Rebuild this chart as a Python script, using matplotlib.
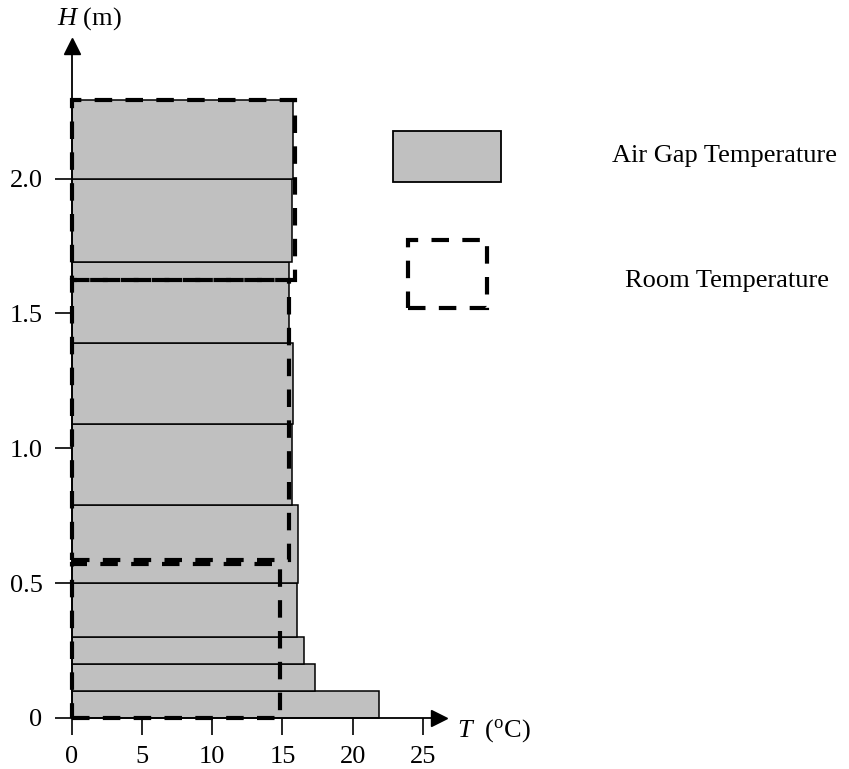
import matplotlib
matplotlib.use("Agg")
import matplotlib.pyplot as plt
from matplotlib.patches import Rectangle

plt.rcParams["font.family"] = ["Liberation Serif", "DejaVu Serif"]
plt.rcParams["mathtext.fontset"] = "custom"
plt.rcParams["mathtext.rm"] = "Liberation Serif"
plt.rcParams["mathtext.it"] = "Liberation Serif:italic"

# Air gap temperature per height band (bottom, top in m; temperature in degC)
gap_bottom = [0.0, 0.1, 0.2, 0.3, 0.5, 0.79, 1.09, 1.39, 1.69, 2.0]
gap_top = [0.1, 0.2, 0.3, 0.5, 0.79, 1.09, 1.39, 1.69, 2.0, 2.29]
gap_temp = [21.9, 17.3, 16.55, 16.07, 16.08, 15.68, 15.77, 15.49, 15.7, 15.77]

# Room temperature zones
room_bottom = [0.0, 0.585, 1.625]
room_top = [0.57, 1.625, 2.29]
room_temp = [14.8, 15.5, 15.9]

x_ticks = [0, 5, 10, 15, 20, 25]
y_ticks = [0, 0.5, 1.0, 1.5, 2.0]
y_tick_labels = ["0", "0.5", "1.0", "1.5", "2.0"]

W, H = 849, 769
fig = plt.figure(figsize=(W / 100, H / 100), dpi=100)
ax = fig.add_axes([0, 0, 1, 1])

# pixel mapping: T=0 at x=71.7, 14.05 px/degC ; H=0 at y=718, 269.75 px/m
x0, sx = 71.7, 14.05
y0, sy = 718.0, 269.75
ax.set_xlim(-x0 / sx, (W - x0) / sx)
ax.set_ylim(-(H - y0) / sy, y0 / sy)

GRAY = "#c0c0c0"
for b, t, v in zip(gap_bottom, gap_top, gap_temp):
    ax.add_patch(Rectangle((0, b), v, t - b, facecolor=GRAY,
                           edgecolor="black", linewidth=1.1, zorder=2))

dash = (0, (4.2, 3.2))
for b, t, v in zip(room_bottom, room_top, room_temp):
    ax.add_patch(Rectangle((0, b), v, t - b, facecolor="none",
                           edgecolor="black", linewidth=3.0,
                           linestyle=dash, zorder=4))

# axes lines with arrow heads
for s in ["top", "right"]:
    ax.spines[s].set_visible(False)
ax.spines["left"].set_position(("data", 0))
ax.spines["bottom"].set_position(("data", 0))
ax.spines["left"].set_bounds(0, 2.49)
ax.spines["bottom"].set_bounds(0, 26.2)
for s in ["left", "bottom"]:
    ax.spines[s].set_linewidth(1.3)
    ax.spines[s].set_zorder(3)
ax.plot([26.15], [0], marker=">", markersize=11, color="black",
        clip_on=False, zorder=5)
ax.plot([0], [2.493], marker="^", markersize=11, color="black",
        clip_on=False, zorder=5)

ax.set_xticks(x_ticks)
ax.set_xticklabels([str(v) for v in x_ticks])
ax.set_yticks(y_ticks)
ax.set_yticklabels(y_tick_labels)
ax.tick_params(axis="both", direction="out", length=12, width=1.2,
               labelsize=19, colors="black")
ax.tick_params(axis="x", pad=8)
ax.tick_params(axis="y", pad=9)

fig.text(89 / W, 1 - 19 / H, "$H$ (m)", fontsize=19,
         ha="center", va="center")
fig.text(457 / W, 1 - 731 / H, r"$T$  ($^{\rm o}$C)", fontsize=19,
         ha="left", va="center")

# legend
ax.add_patch(Rectangle((392.7 / W, 1 - 182.3 / H), (500.7 - 392.7) / W,
                       (182.3 - 130.7) / H, transform=fig.transFigure,
                       facecolor=GRAY, edgecolor="black", linewidth=1.3,
                       clip_on=False))
ax.add_patch(Rectangle((408 / W, 1 - 308 / H), (487 - 408) / W,
                       (308 - 240) / H, transform=fig.transFigure,
                       facecolor="none", edgecolor="black", linewidth=3.0,
                       linestyle=dash, clip_on=False))
fig.text(611.7 / W, 1 - 156 / H, "Air Gap Temperature", fontsize=19,
         ha="left", va="center")
fig.text(625 / W, 1 - 281 / H, "Room Temperature", fontsize=19,
         ha="left", va="center")

fig.savefig("out.png", dpi=100, facecolor="white")
